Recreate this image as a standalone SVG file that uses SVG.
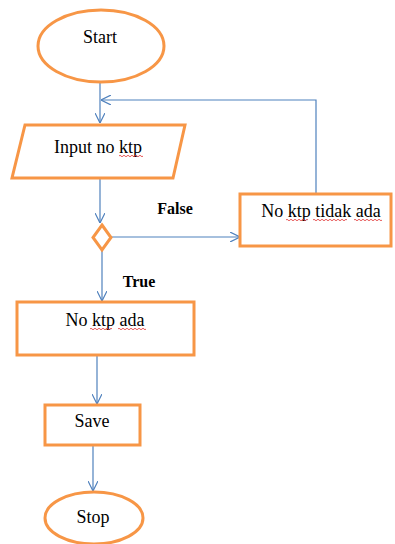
<svg xmlns="http://www.w3.org/2000/svg" width="395" height="544" viewBox="0 0 395 544">
<style>
.shape{fill:#fff;stroke:#F79646;stroke-width:3}
.conn{fill:none;stroke:#4F81BD;stroke-width:1.2}
.t{font-family:"Liberation Serif","Times New Roman",serif;font-size:18px;fill:#000;text-anchor:middle}
.b{font-weight:bold;font-size:16px}
.sq{fill:none;stroke:#E03030;stroke-width:0.8}
</style>
<defs>
<marker id="arr" viewBox="0 0 10 10" refX="10" refY="5" markerWidth="10" markerHeight="10" markerUnits="userSpaceOnUse" orient="auto">
<path d="M0,0 L10,5 L0,10" fill="none" stroke="#4F81BD" stroke-width="1.2"/>
</marker>
</defs>
<rect width="395" height="544" fill="#fff"/>
<g id="connectors">
<path class="conn" d="M100,82 V123" marker-end="url(#arr)"/>
<path class="conn" d="M316,194 V100 H101" marker-end="url(#arr)"/>
<path class="conn" d="M100,178 V223" marker-end="url(#arr)"/>
<path class="conn" d="M111,237 H240" marker-end="url(#arr)"/>
<path class="conn" d="M102,250 V301" marker-end="url(#arr)"/>
<path class="conn" d="M97,355 V404" marker-end="url(#arr)"/>
<path class="conn" d="M93,445 V491" marker-end="url(#arr)"/>
</g>
<g id="start">
<ellipse class="shape" cx="101" cy="46" rx="63" ry="36"/>
<text class="t" x="100" y="43">Start</text>
</g>
<g id="input">
<polygon class="shape" points="25,125 185,125 173,178 12,178"/>
<text class="t" x="98" y="153">Input no ktp</text>
<path class="sq" d="M119,156 q1,-1.5 2,0 t2,0 t2,0 t2,0 t2,0 t2,0 t2,0 t2,0 t2,0 t2,0 t2,0 t2,0"/>
</g>
<g id="decision">
<polygon class="shape" points="102,225 111,237.5 102,250 93,237.5"/>
</g>
<g id="label-false"><text class="t b" x="175" y="214">False</text></g>
<g id="label-true"><text class="t b" x="139" y="287">True</text></g>
<g id="notfound">
<rect class="shape" x="240" y="194" width="151" height="52"/>
<text class="t" x="321" y="217">No ktp tidak ada</text>
<path class="sq" d="M286,220 q1,-1.5 2,0 t2,0 t2,0 t2,0 t2,0 t2,0 t2,0 t2,0 t2,0 t2,0 t2,0"/>
<path class="sq" d="M313,220 q1,-1.5 2,0 t2,0 t2,0 t2,0 t2,0 t2,0 t2,0 t2,0 t2,0 t2,0 t2,0 t2,0 t2,0 t2,0 t2,0 t2,0 t2,0"/>
<path class="sq" d="M354,220 q1,-1.5 2,0 t2,0 t2,0 t2,0 t2,0 t2,0 t2,0 t2,0 t2,0 t2,0 t2,0 t2,0 t2,0 t2,0"/>
</g>
<g id="found">
<rect class="shape" x="17" y="302" width="177" height="53"/>
<text class="t" x="105" y="326">No ktp ada</text>
<path class="sq" d="M90,329 q1,-1.5 2,0 t2,0 t2,0 t2,0 t2,0 t2,0 t2,0 t2,0 t2,0 t2,0 t2,0"/>
<path class="sq" d="M118,329 q1,-1.5 2,0 t2,0 t2,0 t2,0 t2,0 t2,0 t2,0 t2,0 t2,0 t2,0 t2,0 t2,0 t2,0 t2,0"/>
</g>
<g id="save">
<rect class="shape" x="45" y="405" width="95" height="40"/>
<text class="t" x="92" y="427">Save</text>
</g>
<g id="stop">
<ellipse class="shape" cx="94" cy="518" rx="49" ry="26"/>
<text class="t" x="93" y="523">Stop</text>
</g>
</svg>
